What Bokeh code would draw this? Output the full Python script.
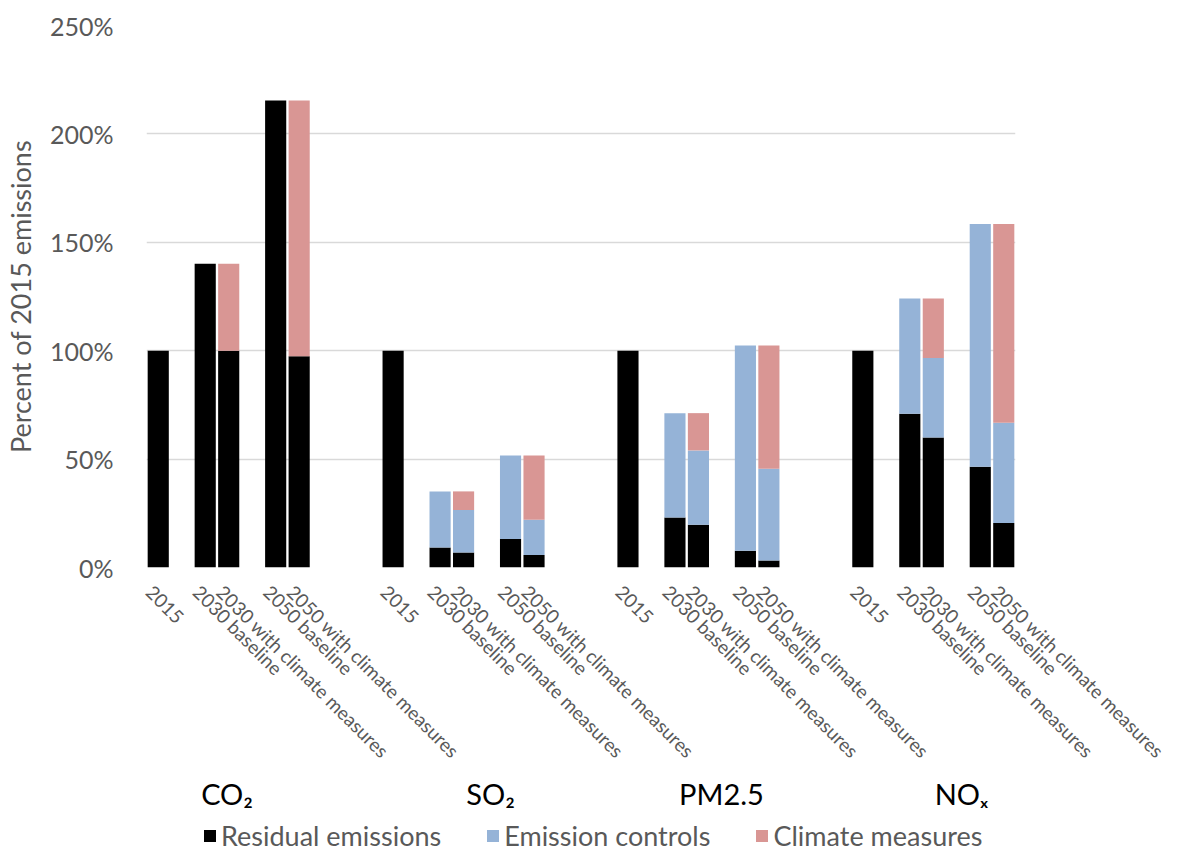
import math
from bokeh.plotting import figure
from bokeh.layouts import column
from bokeh.models import (Range1d, FixedTicker, PrintfTickFormatter, ColumnDataSource,
                          Legend, LegendItem, LinearAxis)
from bokeh.core.properties import value
from bokeh.embed import file_html
from bokeh.resources import INLINE

# ---------------- data ----------------
groups = ["CO\u2082", "SO\u2082", "PM2.5", "NO\u2093"]
categories = ["2015", "2030 baseline", "2030 with climate measures",
              "2050 baseline", "2050 with climate measures"]
series = ["Residual emissions", "Emission controls", "Climate measures"]

# percent of 2015 emissions, 5 categories per pollutant (CO2, SO2, PM2.5, NOx)
residual = [100, 140.1, 100, 215.4, 97.4,
            100, 9.2, 6.9, 13.1, 5.8,
            100, 23.1, 19.7, 7.7, 3.2,
            100, 70.9, 60.0, 46.5, 20.5]
controls = [0, 0, 0, 0, 0,
            0, 25.9, 19.6, 38.6, 16.2,
            0, 48.1, 34.3, 94.7, 42.3,
            0, 53.2, 36.6, 111.9, 46.3]
climate = [0, 0, 40.1, 0, 118.0,
           0, 0, 8.6, 0, 29.7,
           0, 0, 17.2, 0, 56.9,
           0, 0, 27.5, 0, 91.6]

y_ticks = [0, 50, 100, 150, 200, 250]

# ---------------- layout helpers ----------------
colors = ["#000000", "#95B3D7", "#D99694"]
slot_in_group = [0, 2, 3, 5, 6]
group_span = 10
group_label_slot = [2.93, 14.15, 23.98, 34.2]
label_shift = 0.36

x = [g * group_span + s for g in range(len(groups)) for s in slot_in_group]
cat_labels = categories * len(groups)
source = ColumnDataSource(dict(x=x, res=residual, ctrl=controls, clim=climate))
gsource = ColumnDataSource(dict(x=group_label_slot, name=groups))

FONT = "Lato"
GREY = "#595959"

xr = Range1d(-0.5, 36.5)
p = figure(width=1184, height=775,
           x_range=xr, y_range=Range1d(0, 250),
           output_backend="svg", toolbar_location=None, x_axis_location=None,
           min_border_left=134, min_border_right=169, min_border_top=25,
           min_border_bottom=208)
p.outline_line_color = None
p.background_fill_color = "white"
p.border_fill_color = "white"

# y axis & grid
yax = p.yaxis[0]
yax.ticker = FixedTicker(ticks=y_ticks)
yax.formatter = PrintfTickFormatter(format="%d%%")
yax.axis_line_color = None
yax.major_tick_line_color = None
yax.minor_tick_line_color = None
yax.major_label_text_font = FONT
yax.major_label_text_font_size = "25px"
yax.major_label_text_color = GREY
yax.major_label_standoff = 27
yax.axis_label = "Percent of 2015 emissions"
yax.axis_label_text_font = FONT
yax.axis_label_text_font_size = "27px"
yax.axis_label_text_font_style = "normal"
yax.axis_label_text_color = GREY
yax.axis_label_standoff = 10

p.xgrid.visible = False
p.ygrid.ticker = FixedTicker(ticks=y_ticks)
p.ygrid.grid_line_color = "#D9D9D9"
p.ygrid.grid_line_width = 1.5

# category axis (rotated labels)
p.extra_x_ranges = {"lab": Range1d(-0.5 + label_shift, 36.5 + label_shift)}
xax = LinearAxis(x_range_name="lab", ticker=FixedTicker(ticks=x),
                 major_label_overrides={xi: lab for xi, lab in zip(x, cat_labels)})
xax.major_label_orientation = -math.pi / 4
xax.axis_line_color = None
xax.major_tick_line_color = None
xax.minor_tick_line_color = None
xax.major_label_text_font = FONT
xax.major_label_text_font_size = "19px"
xax.major_label_text_color = GREY
xax.major_label_standoff = 15
p.add_layout(xax, "below")

# bars
p.vbar_stack(["res", "ctrl", "clim"], x="x", width=0.9, source=source,
             fill_color=colors, line_color=None)

# ---------------- bottom strip: pollutant names + legend ----------------
g = figure(width=1184, height=80, x_range=xr, y_range=Range1d(0, 80),
           output_backend="svg", toolbar_location=None,
           x_axis_location=None, y_axis_location=None,
           min_border_left=134, min_border_right=169, min_border_top=0,
           min_border_bottom=0)
g.outline_line_color = None
g.grid.visible = False
g.border_fill_color = "white"

g.text(x="x", y=62, text="name", source=gsource, text_align="center",
       text_baseline="alphabetic", text_font=value(FONT),
       text_font_size="29px", text_color="#000000")

# zero-height proxies of the three series, only used as legend keys
leg_r = [g.vbar(x="x", top=0, bottom=0, width=0.9, source=source,
                fill_color=c, line_color=None) for c in colors]
legend = Legend(items=[LegendItem(label=s, renderers=[r]) for s, r in zip(series, leg_r)],
                orientation="horizontal", location=(56, 3))
legend.label_text_font = FONT
legend.label_text_font_size = "27px"
legend.label_text_color = GREY
legend.glyph_width = 15
legend.glyph_height = 15
legend.label_standoff = 4
legend.spacing = 44
legend.padding = 0
legend.margin = 0
legend.border_line_color = None
legend.background_fill_alpha = 0
g.add_layout(legend)

layout = column(p, g, spacing=0)
open("out.html", "w").write(file_html(layout, INLINE))
